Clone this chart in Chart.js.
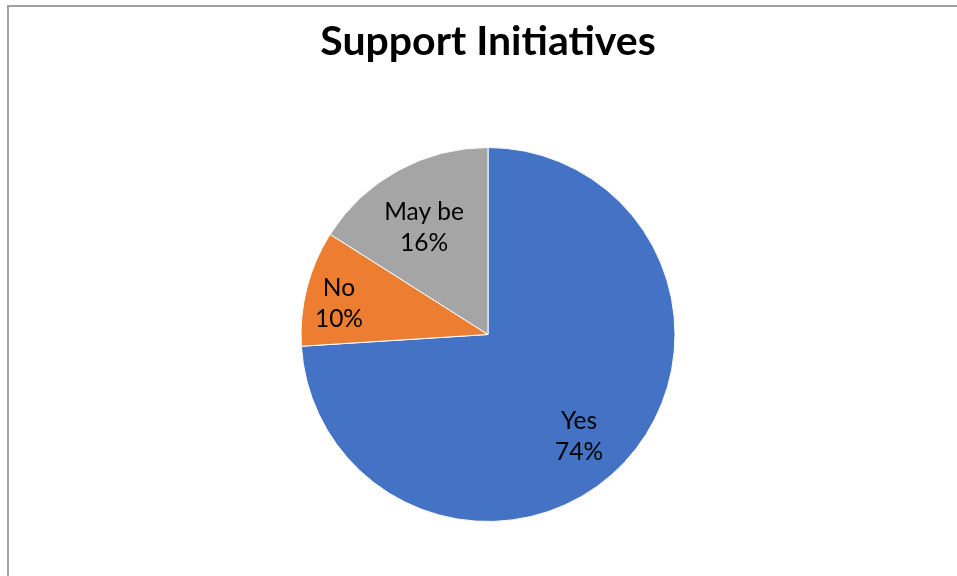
<!DOCTYPE html>
<html>
<head>
<meta charset="utf-8">
<script src="https://cdn.jsdelivr.net/npm/chart.js@4.4.1/dist/chart.umd.min.js"></script>
<style>
  html, body { margin: 0; padding: 0; background: #fff; overflow: hidden; }
  #wrap { position: relative; width: 957px; height: 576px; }
  #frame { position: absolute; left: 7px; top: 5px; width: 1000px; height: 1000px;
           border-left: 2px solid #a0a0a0; border-top: 2px solid #a0a0a0; box-sizing: border-box; }
  canvas { position: absolute; left: 0; top: 0; }
</style>
</head>
<body>
<div id="wrap">
  <div id="frame"></div>
  <canvas id="c" width="957" height="576"></canvas>
</div>
<script>
const categories = ["Yes", "No", "May be"];
const percentages = [74, 10, 16];
const sliceColors = ["#4472C4", "#ED7D31", "#A5A5A5"];
const chartTitle = "Support Initiatives";

// label anchor offsets relative to pie centre, as fractions of the radius (style only)
const labelOffsets = [[0.487, 0.545], [-0.797, -0.166], [-0.342, -0.572]];

const labelPlugin = {
  id: 'sliceLabels',
  afterDatasetsDraw(chart) {
    const ctx = chart.ctx;
    const meta = chart.getDatasetMeta(0);
    ctx.save();
    ctx.font = '24.5px Lato, "Open Sans", sans-serif';
    ctx.fillStyle = '#000';
    ctx.textAlign = 'center';
    ctx.textBaseline = 'middle';
    meta.data.forEach((arc, i) => {
      const p = arc.getProps(['x', 'y', 'outerRadius'], true);
      const x = p.x + labelOffsets[i][0] * p.outerRadius;
      const y = p.y + labelOffsets[i][1] * p.outerRadius;
      const val = chart.data.datasets[0].data[i];
      ctx.fillText(chart.data.labels[i], x, y - 15.5);
      ctx.fillText(val + '%', x, y + 15.5);
    });
    ctx.restore();
  }
};

new Chart(document.getElementById('c'), {
  type: 'pie',
  data: {
    labels: categories,
    datasets: [{
      data: percentages,
      backgroundColor: sliceColors,
      borderColor: '#ffffff',
      borderWidth: 1
    }]
  },
  options: {
    responsive: false,
    animation: false,
    layout: { padding: { top: 0, bottom: 54, left: 19, right: 0 } },
    plugins: {
      legend: { display: false },
      tooltip: { enabled: false },
      title: {
        display: true,
        text: chartTitle,
        color: '#000',
        font: { family: 'Lato, "Open Sans", sans-serif', size: 41, weight: 'bold', lineHeight: 1.2 },
        padding: { top: 17, bottom: 80.8 }
      }
    }
  },
  plugins: [labelPlugin]
});
</script>
</body>
</html>
